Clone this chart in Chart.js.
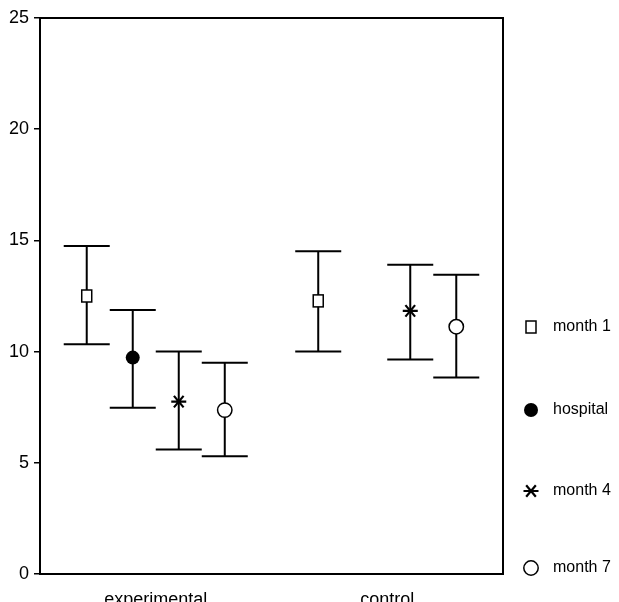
<!DOCTYPE html>
<html>
<head>
<meta charset="utf-8">
<script src="https://cdn.jsdelivr.net/npm/chart.js@4/dist/chart.umd.min.js"></script>
<style>
  html, body { margin: 0; padding: 0; background: #fff; }
  #wrap { width: 619px; height: 602px; }
</style>
</head>
<body>
<div id="wrap"><canvas id="c" width="619" height="602"></canvas></div>
<script>
// ---- data ----
const categories = ['experimental', 'control'];
const seriesLabels = ['month 1', 'hospital', 'month 4', 'month 7'];
const markerStyles = ['square', 'filledCircle', 'asterisk', 'openCircle'];

const meanMonth1   = [12.5, 12.28];
const meanHospital = [9.73, null];
const meanMonth4   = [7.75, 11.83];
const meanMonth7   = [7.37, 11.12];

const upperMonth1   = [14.75, 14.51];
const upperHospital = [11.87, null];
const upperMonth4   = [10.0, 13.91];
const upperMonth7   = [9.5, 13.46];

const lowerMonth1   = [10.33, 10.01];
const lowerHospital = [7.48, null];
const lowerMonth4   = [5.6, 9.65];
const lowerMonth7   = [5.3, 8.83];

const yTicks = [0, 5, 10, 15, 20, 25];

const means  = [meanMonth1, meanHospital, meanMonth4, meanMonth7];
const uppers = [upperMonth1, upperHospital, upperMonth4, upperMonth7];
const lowers = [lowerMonth1, lowerHospital, lowerMonth4, lowerMonth7];

const FONT = '"Liberation Sans", Arial, sans-serif';

function drawMarker(ctx, style, x, y) {
  ctx.save();
  ctx.strokeStyle = '#000';
  ctx.fillStyle = '#000';
  ctx.lineWidth = 1.5;
  if (style === 'square') {
    ctx.fillStyle = '#fff';
    ctx.fillRect(x - 5, y - 6, 10, 12);
    ctx.strokeRect(x - 5, y - 6, 10, 12);
  } else if (style === 'filledCircle') {
    ctx.beginPath();
    ctx.arc(x, y, 7, 0, Math.PI * 2);
    ctx.fill();
  } else if (style === 'openCircle') {
    ctx.fillStyle = '#fff';
    ctx.beginPath();
    ctx.arc(x, y, 7.2, 0, Math.PI * 2);
    ctx.fill();
    ctx.stroke();
  } else if (style === 'asterisk') {
    ctx.lineWidth = 2.2;
    const r = 7.5;
    const a = 50 * Math.PI / 180;
    ctx.beginPath();
    ctx.moveTo(x - r, y); ctx.lineTo(x + r, y);
    ctx.moveTo(x - r * Math.cos(a), y - r * Math.sin(a)); ctx.lineTo(x + r * Math.cos(a), y + r * Math.sin(a));
    ctx.moveTo(x - r * Math.cos(a), y + r * Math.sin(a)); ctx.lineTo(x + r * Math.cos(a), y - r * Math.sin(a));
    ctx.stroke();
  }
  ctx.restore();
}

const errorBarPlugin = {
  id: 'errorBars',
  afterDatasetsDraw(chart) {
    const ctx = chart.ctx;
    const yScale = chart.scales.y;
    const area = chart.chartArea;
    // frame (top and right)
    ctx.save();
    ctx.strokeStyle = '#000';
    ctx.lineWidth = 2;
    ctx.beginPath();
    ctx.moveTo(area.left, area.top);
    ctx.lineTo(area.right, area.top);
    ctx.lineTo(area.right, area.bottom);
    ctx.stroke();
    ctx.restore();

    chart.data.datasets.forEach((ds, di) => {
      const meta = chart.getDatasetMeta(di);
      meta.data.forEach((el, i) => {
        const m = means[di][i];
        if (m === null || m === undefined) return;
        const x = el.x;
        const half = el.width / 2;
        const yT = yScale.getPixelForValue(uppers[di][i]);
        const yB = yScale.getPixelForValue(lowers[di][i]);
        const yM = yScale.getPixelForValue(m);
        ctx.save();
        ctx.strokeStyle = '#000';
        ctx.lineWidth = 2;
        ctx.beginPath();
        ctx.moveTo(x, yT); ctx.lineTo(x, yB);
        ctx.moveTo(x - half, yT); ctx.lineTo(x + half, yT);
        ctx.moveTo(x - half, yB); ctx.lineTo(x + half, yB);
        ctx.stroke();
        ctx.restore();
        drawMarker(ctx, markerStyles[di], x, yM);
      });
    });
  },
  afterDraw(chart) {
    // legend on the right
    const ctx = chart.ctx;
    const rows = [327, 410, 491, 568];
    ctx.save();
    ctx.font = '16px ' + FONT;
    ctx.fillStyle = '#000';
    ctx.textBaseline = 'middle';
    chart.data.datasets.forEach((ds, di) => {
      drawMarker(ctx, markerStyles[di], 531, rows[di]);
      ctx.fillStyle = '#000';
      ctx.fillText(ds.label, 553, rows[di]);
    });
    ctx.restore();
  }
};

const datasets = seriesLabels.map((label, di) => ({
  label: label,
  data: categories.map((c, i) => (means[di][i] === null ? null : [lowers[di][i], uppers[di][i]])),
  backgroundColor: 'rgba(0,0,0,0)',
  borderWidth: 0,
  categoryPercentage: 0.795,
  barPercentage: 1.0
}));

new Chart(document.getElementById('c'), {
  type: 'bar',
  data: { labels: categories, datasets: datasets },
  options: {
    responsive: false,
    animation: false,
    devicePixelRatio: 1,
    layout: { padding: { top: 18, right: 116, left: 0, bottom: 0 } },
    plugins: { legend: { display: false }, tooltip: { enabled: false } },
    scales: {
      x: {
        grid: { display: false },
        border: { display: true, color: '#000', width: 2 },
        ticks: { color: '#000', font: { size: 18, family: FONT }, padding: 7 },
        afterFit(s) { s.height = 28; }
      },
      y: {
        min: 0, max: 25,
        afterBuildTicks(s) { s.ticks = yTicks.map(v => ({ value: v })); },
        grid: { drawOnChartArea: false, drawTicks: true, tickLength: 6, color: '#000', lineWidth: 1.5 },
        border: { display: true, color: '#000', width: 2 },
        ticks: { color: '#000', font: { size: 18, family: FONT }, padding: 5 },
        afterFit(s) { s.width = 40; }
      }
    }
  },
  plugins: [errorBarPlugin]
});
</script>
</body>
</html>
